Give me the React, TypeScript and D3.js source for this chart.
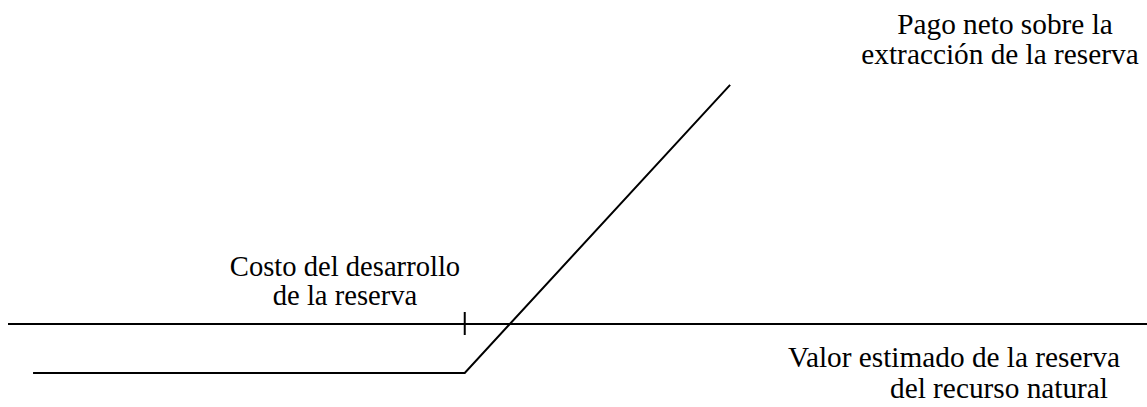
import React from "react";
import * as d3 from "d3";

const W = 1147;
const H = 407;

// Payoff diagram (opción real): valor de la reserva vs pago neto
const valores = [2.2, 40.1, 63.4];
const pagos = [-4.3, -4.3, 21.0];
const ejeX = [0, 100];
const precioEjercicio = 40.1;

const etiquetaPago = ["Pago neto sobre la", "extracción de la reserva"];
const etiquetaCosto = ["Costo del desarrollo", "de la reserva"];
const etiquetaValor = ["Valor estimado de la reserva", "del recurso natural"];

function Label({ x, y, anchor, size, children }: { x: number; y: number; anchor?: string; size?: number; children: React.ReactNode }) {
  return (
    <text
      x={x}
      y={y}
      textAnchor={anchor || "start"}
      fill="#000"
      style={{ fontFamily: "Liberation Serif", fontSize: size || 29.3 }}
    >
      {children}
    </text>
  );
}

export default function App() {
  const x = d3.scaleLinear().domain([0, 100]).range([8, W]);
  const y = d3.scaleLinear().domain([-7.29, 28.45]).range([H, 0]);
  const line = d3
    .line<number>()
    .x((_, i) => x(valores[i]))
    .y((d) => y(d));
  return (
    <svg
      width={W}
      height={H}
      style={{ position: "absolute", left: 0, top: 0, background: "#fff" }}
    >
      <rect width={W} height={H} fill="#fff" />
      <line
        x1={x(ejeX[0])}
        x2={x(ejeX[1])}
        y1={y(0)}
        y2={y(0)}
        stroke="#000"
        strokeWidth={2}
      />
      <line
        x1={x(precioEjercicio)}
        x2={x(precioEjercicio)}
        y1={y(0) - 12}
        y2={y(0) + 11}
        stroke="#000"
        strokeWidth={2}
      />
      <path d={line(pagos) || ""} fill="none" stroke="#000" strokeWidth={2} />
      <Label x={1005} y={34} anchor="middle">{etiquetaPago[0]}</Label>
      <Label x={1000} y={64} anchor="middle">{etiquetaPago[1]}</Label>
      <Label x={345} y={276} anchor="middle" size={28.6}>{etiquetaCosto[0]}</Label>
      <Label x={345} y={305} anchor="middle" size={28.6}>{etiquetaCosto[1]}</Label>
      <Label x={788} y={367}>{etiquetaValor[0]}</Label>
      <Label x={890} y={398}>{etiquetaValor[1]}</Label>
    </svg>
  );
}
